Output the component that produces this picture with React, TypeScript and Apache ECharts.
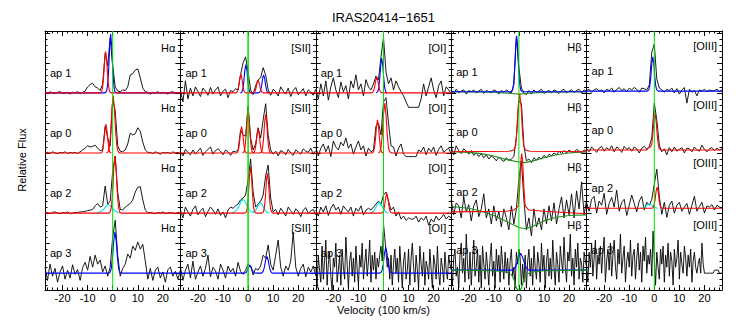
import React, { useEffect, useRef } from "react";
import * as echarts from "echarts";

// Velocity grids (100 km/s)
const VEL = [-27,-26,-25,-24,-23,-22,-21,-20,-19,-18,-17,-16,-15,-14,-13,-12,-11,-10,-9,-8,-7,-6,-5,-4,-3,-2,-1,0,1,2,3,4,5,6,7,8,9,10,11,12,13,14,15,16,17,18,19,20,21,22,23,24,25,26,27];
const VEL_HALF = [-27,-26.5,-26,-25.5,-25,-24.5,-24,-23.5,-23,-22.5,-22,-21.5,-21,-20.5,-20,-19.5,-19,-18.5,-18,-17.5,-17,-16.5,-16,-15.5,-15,-14.5,-14,-13.5,-13,-12.5,-12,-11.5,-11,-10.5,-10,-9.5,-9,-8.5,-8,-7.5,-7,-6.5,-6,-5.5,-5,-4.5,-4,-3.5,-3,-2.5,-2,-1.5,-1,-0.5,0,0.5,1,1.5,2,2.5,3,3.5,4,4.5,5,5.5,6,6.5,7,7.5,8,8.5,9,9.5,10,10.5,11,11.5,12,12.5,13,13.5,14,14.5,15,15.5,16,16.5,17,17.5,18,18.5,19,19.5,20,20.5,21,21.5,22,22.5,23,23.5,24,24.5,25,25.5,26,26.5,27];
const X_MAJOR = [-20, -10, 0, 10, 20];
const LINES = ["Hα", "[SII]", "[OI]", "Hβ", "[OIII]"];
const APS = ["ap 1", "ap 0", "ap 2", "ap 3"];

// ---- Hα ----
const HA_AP1 = [0.01,-0.01,0.02,0,-0.01,0.01,0.02,-0.01,0,0.01,-0.02,0.01,0,0.02,-0.01,0.01,
  0.03,0.1,0.14,0.16,0.1,0.08,0.04,0.15,0.66,0.45,0.92,0.45,0.1,0.03,0.02,0.05,0.04,0.1,0.3,0.32,0.38,0.4,0.25,0.08,0.02,
  0.01,-0.02,0.01,0,0.02,-0.01,0.01,0,-0.02,0.01,0.02,-0.01,0,0.01];
const HA_AP0 = [0,0.01,-0.01,0.02,0,-0.01,0.01,0,0.02,-0.01,0.01,0,0.01,-0.01,0.02,
  0.05,0.08,0.12,0.1,0.11,0.13,0.08,0.04,0.05,0.45,0.25,0.12,0.9,0.7,0.12,0.03,0.02,0.05,0.15,0.33,0.3,0.32,0.42,0.36,0.18,0.05,0.01,
  0.01,-0.01,0.02,0,-0.02,0.01,0,0.01,-0.01,0.02,0,0.01,-0.01];
const HA_AP2 = [0,0.01,-0.01,0.01,0.02,0,-0.01,0.01,0,0.02,-0.01,0,0.01,0.01,0.02,0.02,0.03,0.04,0.05,
  0.06,0.12,0.16,0.1,0.12,0.45,0.15,0.2,0.7,0.95,0.35,0.06,0.05,0.1,0.13,0.16,0.22,0.35,0.43,0.44,0.22,0.05,0.01,
  0.01,0,-0.01,0.01,0,0.02,-0.01,0,0.01,0,-0.01,0.01,0];
const HA_AP3 = [0.1,-0.12,0.15,-0.05,0.08,-0.15,0.02,0.12,-0.1,0.05,-0.08,0.14,-0.02,0.06,-0.12,0.09,
  0.18,0.05,0.28,0.1,0.3,0.15,0.22,0.02,0.12,-0.05,0.1,0.6,0.88,0.3,-0.05,0.08,0.15,0.32,0.25,0.45,0.38,0.52,0.4,0.48,0.2,-0.1,
  0.08,-0.12,0.05,0.1,-0.08,0.02,-0.15,0.06,0.1,-0.05,0.03,-0.1,0.05];
const HA_AP1_BLUE = [[-27,0],[-3,0],[-2.4,0.03],[-2,0.14],[-1.6,0.4],[-1.2,0.78],[-0.8,0.98],[-0.4,0.78],[0,0.4],[0.4,0.14],[0.8,0.03],[1.4,0],[27,0]];
const HA_AP1_RED = [[-27,0],[-5,0],[-4.4,0.02],[-4,0.1],[-3.6,0.28],[-3.2,0.55],[-2.8,0.69],[-2.4,0.55],[-2,0.28],[-1.6,0.1],[-1.2,0.02],[-0.6,0],[27,0]];
const HA_AP0_RED1 = [[-27,0],[-4.9,0],[-4.3,0.01],[-3.9,0.07],[-3.5,0.2],[-3.1,0.38],[-2.7,0.48],[-2.3,0.38],[-1.9,0.2],[-1.5,0.07],[-1.1,0.01],[-0.5,0]];
const HA_AP0_RED2 = [[-2.5,0],[-1.8,0.02],[-1.3,0.1],[-0.8,0.34],[-0.3,0.73],[0.2,0.95],[0.7,0.73],[1.2,0.34],[1.7,0.1],[2.2,0.02],[2.9,0],[27,0]];
const HA_AP2_CYAN = [[-6.5,0],[-5.5,0.01],[-4.5,0.03],[-3.5,0.07],[-2.6,0.115],[-1.7,0.145],[-0.8,0.115],[0.1,0.07],[1.1,0.03],[2.1,0.01],[3,0]];
const HA_AP2_RED = [[-27,0],[-1.5,0],[-1,0.02],[-0.5,0.1],[0,0.36],[0.45,0.75],[0.9,0.95],[1.35,0.75],[1.8,0.36],[2.3,0.1],[2.8,0.02],[3.4,0],[27,0]];
const HA_AP3_BLUE = [[-27,0],[-1.6,0],[-1.1,0.01],[-0.6,0.07],[-0.1,0.25],[0.4,0.53],[0.9,0.69],[1.4,0.53],[1.9,0.25],[2.4,0.07],[2.9,0.01],[3.5,0],[27,0]];

// ---- [SII] ----
const SII_AP1 = [0.05,-0.15,0.2,-0.1,0.08,-0.05,0.1,0.02,-0.06,0.08,0.03,-0.04,0.09,-0.02,0.05,0.1,-0.05,0.03,0.06,-0.08,0.04,0.02,0.07,
  0.05,0.3,0.5,0.6,0.35,0.05,-0.03,0.12,0.22,0.25,0.42,0.3,0.05,-0.04,
  0.06,0.02,-0.05,0.1,0.03,-0.02,0.08,-0.06,0.04,0.09,-0.03,0.02,0.07,-0.05,0.05,0.01,-0.04,0.06];
const SII_AP0 = [0.02,-0.05,0.06,0.01,-0.03,0.05,-0.02,0.03,0.08,-0.04,0.02,0.06,0.1,-0.02,0.04,0.07,0.03,-0.03,0.05,0.02,-0.04,0.03,0.02,
  0.05,0.38,0.3,0.28,0.78,0.25,0.05,0.15,0.42,0.25,0.55,0.82,0.3,0.05,-0.02,
  0.03,-0.05,0.04,0.02,-0.03,0.06,0,-0.04,0.05,0.02,-0.02,0.07,0.03,0.01,0.08,-0.02,0.04];
const SII_AP2 = [0.05,-0.08,0.1,0.02,-0.05,0.06,0.12,-0.03,0.04,0.08,-0.06,0.03,0.1,0.05,-0.02,0.07,-0.04,0.02,-0.08,0.05,0.1,
  0.08,0.12,0.15,0.22,0.25,0.3,0.55,0.9,0.35,0.1,0.15,0.2,0.3,0.62,0.8,0.25,0.02,
  0.06,-0.03,0.08,0.02,-0.05,0.1,0.04,-0.02,0.07,0.03,-0.06,0.05,0.09,-0.01,0.04,0.06,-0.03];
const SII_AP3 = [0.1,-0.12,0.05,0.15,-0.08,0.2,-0.1,0.02,0.12,-0.05,0.08,0.3,-0.06,0.1,0.04,-0.1,0.15,0.05,-0.08,0.12,0.02,0.08,-0.05,0.18,0.03,-0.02,0.05,
  0.15,0.12,-0.03,0.08,0.05,0.12,0.3,0.25,0.47,0.15,0.05,0.3,0.55,0.1,-0.05,0.12,0.05,0.2,0.68,0.1,-0.05,
  0.08,0.15,-0.06,0.1,0.02,0.12,-0.04];
const SII_AP1_BLUE = [[-3.1,0],[-2.5,0.01],[-2.1,0.07],[-1.7,0.19],[-1.3,0.38],[-0.9,0.47],[-0.5,0.38],[-0.1,0.19],[0.3,0.07],[0.7,0.01],[1.3,0],[4,0],[4.6,0.01],[5,0.04],[5.4,0.12],[5.8,0.24],[6.2,0.3],[6.6,0.24],[7,0.12],[7.4,0.04],[7.8,0.01],[8.4,0]];
const SII_AP1_RED = [[-27,0],[-5,0],[-4.5,0.01],[-4.1,0.04],[-3.7,0.13],[-3.3,0.25],[-2.9,0.31],[-2.5,0.25],[-2.1,0.13],[-1.7,0.04],[-1.3,0.01],[-0.7,0],[1.8,0],[2.4,0.01],[2.8,0.03],[3.2,0.09],[3.6,0.17],[4,0.21],[4.4,0.17],[4.8,0.09],[5.2,0.03],[5.6,0.01],[6.2,0],[27,0]];
const SII_AP0_RED1 = [[-27,0],[-4.8,0],[-4.2,0.01],[-3.8,0.06],[-3.4,0.18],[-3,0.35],[-2.6,0.44],[-2.2,0.35],[-1.8,0.18],[-1.4,0.06],[-1,0.01],[-0.4,0],[1.8,0],[2.4,0.01],[2.8,0.06],[3.2,0.16],[3.6,0.32],[4,0.4],[4.4,0.32],[4.8,0.16],[5.2,0.06],[5.6,0.01],[6.2,0],[27,0]];
const SII_AP0_RED2 = [[-2.2,0],[-1.6,0.02],[-1.2,0.1],[-0.8,0.3],[-0.4,0.58],[0,0.73],[0.4,0.58],[0.8,0.3],[1.2,0.1],[1.6,0.02],[2.2,0],[4.8,0],[5.4,0.02],[5.8,0.09],[6.2,0.26],[6.6,0.51],[7,0.64],[7.4,0.51],[7.8,0.26],[8.2,0.09],[8.6,0.02],[9.2,0]];
const SII_AP2_CYAN = [[-6.5,0],[-5.5,0.02],[-4.5,0.05],[-3.5,0.13],[-2.7,0.2],[-2,0.23],[-1.3,0.2],[-0.5,0.13],[0.5,0.05],[1.5,0.02],[2.3,0.01],[3,0.04],[3.7,0.1],[4.3,0.15],[4.9,0.17],[5.5,0.15],[6.1,0.1],[6.8,0.04],[7.6,0.01],[8.5,0]];
const SII_AP2_RED = [[-27,0],[-1.3,0],[-0.65,0.02],[-0.25,0.11],[0.15,0.32],[0.55,0.62],[0.95,0.77],[1.35,0.62],[1.75,0.32],[2.15,0.11],[2.55,0.02],[3.2,0],[5.5,0],[6.1,0.02],[6.5,0.09],[6.9,0.27],[7.3,0.53],[7.7,0.66],[8.1,0.53],[8.5,0.27],[8.9,0.09],[9.3,0.02],[9.9,0],[27,0]];
const SII_AP3_BLUE = [[-27,0],[-1.5,0],[-0.8,0.01],[-0.3,0.05],[0.2,0.1],[0.7,0.13],[1.2,0.1],[1.7,0.05],[2.2,0.01],[3,0],[5,0],[5.5,0.005],[6,0.03],[6.5,0.1],[7,0.22],[7.5,0.28],[8,0.22],[8.5,0.1],[9,0.03],[9.5,0.005],[10,0],[27,0]];

// ---- [OI] ----
const OI_AP1 = [0.05,-0.1,0.15,-0.05,0.2,-0.12,0.1,0.25,0.05,-0.08,0.18,0.02,0.12,-0.1,0.2,0.08,0.3,0.05,0.15,-0.05,0.22,0.1,0.05,0.15,
  0.28,0.22,0.6,0.92,0.35,0.15,0.25,0.05,0.2,0.1,0.02,-0.05,-0.15,-0.24,-0.24,-0.24,-0.24,-0.24,-0.1,0.15,-0.05,0.1,0.25,0.05,
  -0.08,0.12,0.2,-0.05,0.1,0.05,-0.02];
const OI_AP0 = [0.1,-0.05,0.08,0.15,0.02,0.12,-0.06,0.2,0.1,0.05,0.18,0.12,0.25,0.08,0.15,-0.02,0.1,0.2,0.05,0.12,-0.05,0.08,0.02,0.05,
  0.45,0.5,0.3,0.85,0.92,0.5,0.12,0.1,-0.05,0.08,0.15,-0.02,-0.06,-0.06,-0.06,-0.06,-0.06,0.05,0.02,0.1,-0.03,0.08,
  0.02,0.1,-0.04,0.06,0.12,0.01,0.05,0.08,-0.02];
const OI_AP2 = [0.05,-0.05,0.1,0.02,0.12,-0.04,0.08,0.15,0.05,0.1,-0.02,0.12,0.06,0.02,0.1,-0.05,0.08,0.03,0.12,-0.03,0.05,0.08,
  0.05,0.1,0.15,0.2,0.15,0.3,0.35,0.2,0.05,0.1,-0.05,0.02,-0.1,-0.05,-0.12,-0.08,-0.1,-0.1,-0.05,-0.15,-0.08,-0.12,-0.05,-0.2,-0.1,-0.15,
  -0.05,-0.12,-0.08,-0.02,-0.1,-0.05,-0.08];
const OI_AP3 = [0.1,-0.25,0.3,0.05,-0.15,0.45,-0.1,0.2,0.55,-0.2,
  0.15,0.35,-0.05,-0.3,0.25,0.1,0.5,-0.15,0.05,0.3,
  -0.2,0.4,0.1,-0.1,0.6,0.15,-0.25,0.2,0.35,-0.05,
  0.25,-0.15,0.45,0.05,-0.2,0.3,0.1,0.5,-0.1,0.15,
  0.4,-0.05,0.2,0.55,-0.15,0.3,0.05,0.35,-0.1,0.25,
  0.1,0.3,0.45,0.2,0.82,0.6,0.35,0.1,0.25,-0.1,
  0.3,-0.2,0.15,0.4,0,0.25,-0.15,0.45,0.1,-0.25,
  0.2,0.35,-0.1,0.05,0.4,-0.2,0.25,0.5,0.1,-0.15,
  0.3,0.05,-0.25,0.45,0.15,-0.05,0.35,-0.2,0.2,0.1,
  -0.1,0.4,0.05,-0.25,0.3,0.15,-0.1,0.45,0,-0.2,
  0.25,0.1,-0.15,0.35,0.05,-0.1,0.3,0.15,0.05];
const OI_AP1_BLUE = [[-2.9,0],[-2.3,0.02],[-1.9,0.08],[-1.5,0.24],[-1.1,0.46],[-0.7,0.58],[-0.3,0.46],[0.1,0.24],[0.5,0.08],[0.9,0.02],[1.5,0]];
const OI_AP1_RED = [[-27,0],[-4.9,0],[-4.3,0.01],[-3.9,0.04],[-3.5,0.11],[-3.1,0.21],[-2.7,0.26],[-2.3,0.21],[-1.9,0.11],[-1.5,0.04],[-1.1,0.01],[-0.5,0],[27,0]];
const OI_AP0_RED1 = [[-27,0],[-4.6,0],[-4,0.02],[-3.6,0.08],[-3.2,0.23],[-2.8,0.44],[-2.4,0.55],[-2,0.44],[-1.6,0.23],[-1.2,0.08],[-0.8,0.02],[-0.2,0]];
const OI_AP0_RED2 = [[-2,0],[-1.5,0.02],[-1,0.08],[-0.5,0.3],[0,0.64],[0.5,0.83],[1,0.64],[1.5,0.3],[2,0.08],[2.5,0.02],[3.2,0],[27,0]];
const OI_AP2_CYAN = [[-5.5,0],[-4.6,0.01],[-3.8,0.04],[-3,0.1],[-2.3,0.15],[-1.7,0.18],[-1.1,0.15],[-0.4,0.1],[0.4,0.04],[1.2,0.01],[2,0]];
const OI_AP2_RED = [[-27,0],[-0.9,0],[-0.3,0.01],[0.1,0.05],[0.5,0.14],[0.9,0.26],[1.3,0.33],[1.7,0.26],[2.1,0.14],[2.5,0.05],[2.9,0.01],[3.5,0],[27,0]];
const OI_AP3_BLUE = [[-27,0],[-1.6,0],[-1.1,0.01],[-0.6,0.04],[-0.1,0.15],[0.4,0.33],[0.9,0.43],[1.4,0.33],[1.9,0.15],[2.4,0.04],[2.9,0.01],[3.5,0],[27,0]];

// ---- Hβ ----
const HB_AP1 = [0.02,-0.03,0.04,-0.02,0.01,0.03,-0.04,0.02,0,0.03,-0.02,0.01,0.04,-0.03,0.02,0,-0.02,0.03,0.01,-0.04,0.02,-0.01,0.03,0,-0.02,
  0.12,0.92,0.4,0.06,-0.02,-0.05,
  0.02,-0.04,0.03,-0.02,0.01,0.04,-0.03,0,0.02,-0.02,0.03,0.01,-0.03,0.02,0.04,-0.02,0.01,0.03,-0.01,0.02,0.04,-0.02,0.03,0.01];
const HB_AP0 = [0.08,-0.05,0.1,0.02,-0.03,0.05,0.01,-0.04,0.02,-0.06,-0.02,-0.08,-0.03,-0.1,-0.05,-0.12,-0.07,-0.1,-0.15,-0.09,-0.13,-0.16,-0.1,-0.14,-0.12,
  -0.08,0.25,0.85,0.8,0.1,-0.15,
  -0.12,-0.18,-0.1,-0.14,-0.09,-0.12,-0.06,-0.1,-0.04,-0.07,-0.02,-0.05,0.01,-0.03,0.02,-0.02,0.03,0,-0.01,0.04,0.01,-0.02,0.03,0.02];
const HB_AP2 = [0.2,-0.05,0.15,0.1,-0.1,0.25,0,0.12,-0.15,0.1,0.2,-0.08,0.05,0.3,-0.1,0.05,-0.2,0.1,-0.15,0,-0.25,0.05,-0.1,-0.3,0.1,-0.2,0.05,
  0.55,0.85,0.2,-0.3,-0.1,-0.4,0.05,-0.25,-0.1,-0.3,0.05,-0.2,0.1,-0.15,0.15,-0.2,0.05,0.25,-0.1,0.2,-0.05,0.3,-0.1,0.35,0.05,0.5,-0.05,0.2];
const HB_AP3 = [0.1,-0.25,0.2,0.35,-0.1,0.05,-0.3,0.25,0.45,-0.05,
  0.2,-0.2,0.6,0.1,-0.15,0.3,-0.25,0.15,0.5,-0.1,
  0.05,0.35,-0.2,0.25,-0.3,0.4,0.1,-0.15,0.3,0.05,
  -0.25,0.2,0.45,-0.1,0.15,-0.3,0.35,0,0.25,-0.2,
  0.4,0.1,-0.15,0.3,-0.05,0.2,-0.25,0.15,0.35,-0.1,
  0.05,-0.3,0.3,0.1,0.35,0.2,-0.25,0.1,-0.2,0.25,
  -0.3,0.15,0.35,-0.1,0.2,-0.25,0.4,0.05,-0.15,0.3,
  0.1,-0.2,0.45,0,0.25,-0.3,0.15,0.35,-0.1,0.2,
  -0.15,0.5,0.05,-0.25,0.3,0.1,-0.2,0.4,0.15,-0.05,
  0.55,0.05,-0.2,0.3,0.15,0.6,-0.1,0.2,-0.25,0.35,
  0.05,0.45,-0.15,0.2,0.1,-0.2,0.3,0.15,0.05];
const HB_AP1_GREEN = [[-27,0],[-10,-0.01],[-3,-0.03],[0,-0.04],[3,-0.03],[10,-0.01],[27,0]];
const HB_AP1_BLUE = [[-27,0],[-3.1,0],[-2.5,0.03],[-2.1,0.13],[-1.7,0.38],[-1.3,0.74],[-0.9,0.93],[-0.5,0.74],[-0.1,0.38],[0.3,0.13],[0.7,0.03],[1.3,0],[27,0]];
const HB_AP0_GREEN = [[-27,0],[-20,-0.01],[-15,-0.03],[-10,-0.07],[-5,-0.13],[0,-0.17],[2,-0.18],[5,-0.16],[10,-0.1],[15,-0.05],[20,-0.02],[27,0]];
const HB_AP0_RED = [[-27,0],[-4,0.01],[-2,0.03],[-1.3,0.1],[-0.8,0.35],[-0.3,0.75],[0.3,0.97],[0.9,0.75],[1.4,0.35],[1.9,0.1],[2.6,0.03],[4.5,0.01],[27,0]];
const HB_AP2_GREEN = [[-27,0.09],[-20,0.06],[-15,0.01],[-10,-0.06],[-5,-0.16],[0,-0.26],[2.5,-0.28],[5,-0.25],[10,-0.15],[15,-0.09],[20,-0.06],[27,-0.05]];
const HB_AP2_RED = [[-27,0],[-5,0.01],[-2,0.03],[-0.2,0.1],[0.3,0.4],[0.8,0.85],[1.1,0.97],[1.5,0.85],[2,0.4],[2.5,0.1],[4,0.03],[10,0.01],[27,-0.03]];
const HB_AP3_GREEN = [[-27,0],[-10,-0.01],[-5,-0.03],[-3,-0.07],[-2,-0.15],[-1,-0.3],[0,-0.35],[1,-0.3],[2,-0.15],[3,-0.07],[5,-0.03],[10,-0.01],[27,0]];
const HB_AP3_BLUE = [[-27,0],[-2.5,0],[-1.5,0.04],[-0.8,0.12],[0,0.22],[0.7,0.28],[1.4,0.22],[2.2,0.12],[2.9,0.04],[4,0],[27,0]];

// ---- [OIII] ----
const OIII_AP1 = [0.01,0.03,-0.02,0.02,0.04,0,0.02,-0.03,0.03,0.01,0.05,-0.02,0.03,0.06,0.01,0.04,-0.01,0.05,0.02,0.06,0.03,-0.02,0.05,0.04,0.02,
  0.1,0.65,0.78,0.2,0.05,0.02,
  -0.02,0.03,0.01,0.05,-0.03,0.04,-0.05,0.02,0.06,-0.2,0.03,-0.02,0.01,-0.08,0.02,0,0.03,-0.01,0.02,0,0.01,0.03,-0.01,0.02];
const OIII_AP0 = [0.02,-0.03,0.05,0.01,-0.04,0.03,0.06,-0.02,0.04,0,0.07,-0.03,0.05,0.02,-0.04,0.06,0.01,0.04,-0.02,0.05,0.02,-0.05,0.03,0.06,0.01,
  0.06,0.2,0.78,0.5,0.08,-0.03,
  0.02,-0.08,0.04,-0.03,0.05,-0.02,0.01,0.04,-0.05,0.03,0.02,-0.03,0.05,0,-0.02,0.08,0.01,-0.03,0.02,0.04,-0.01,0.03,0,0.02];
const OIII_AP2 = [0.1,-0.05,0.15,0.2,-0.08,0.12,0.05,0.25,-0.1,0.08,0.18,0.02,0.3,-0.05,0.1,0.15,-0.12,0.05,0.22,0.08,-0.06,0.12,0.2,-0.03,0.1,0.05,0.15,
  0.4,0.65,0.2,-0.1,0.1,-0.15,0.05,0.12,-0.08,0.05,0.1,-0.05,0.02,0.08,-0.1,0.05,0.2,-0.05,0.03,0.1,-0.08,0.04,0.02,0.06,-0.03,0.05,0.02,0.01];
const OIII_AP3 = [0.1,-0.2,0.3,0.05,0.45,-0.1,0.2,0.5,-0.15,0.25,
  0.1,0.4,-0.05,0.3,0.55,-0.2,0.15,0.35,0,0.45,
  -0.1,0.25,0.5,0.05,-0.15,0.35,0.1,0.6,-0.05,0.2,
  0.4,-0.2,0.15,0.3,0.05,0.5,-0.1,0.25,0.35,-0.15,
  0.2,0.45,0,0.3,-0.2,0.4,0.15,0.55,-0.05,0.25,
  0.1,0.35,-0.1,0.65,0.2,-0.25,0.3,0.05,-0.15,0.35,
  0.1,0.4,-0.2,0.25,0.05,0.45,-0.1,0.3,0.15,-0.25,
  0.35,0.05,0.2,0.5,-0.15,0.3,0.1,-0.05,0.4,0.2,
  -0.1,0.25,0.05,0.35,-0.2,0.15,0.3,0.05,-0.05,0.1,
  0.2,-0.05,0.45,0.1,-0.05,-0.05,-0.05,-0.05,-0.05,-0.05,
  -0.05,-0.05,0,0,0,0,-0.05,-0.05,-0.05];
const OIII_AP1_BLUE = [[-27,0],[-2.8,0],[-2.2,0.02],[-1.8,0.08],[-1.4,0.23],[-1,0.46],[-0.6,0.57],[-0.2,0.46],[0.2,0.23],[0.6,0.08],[1,0.02],[1.6,0],[27,0]];
const OIII_AP0_RED = [[-27,0],[-3,0],[-2.2,0.04],[-1.5,0.05],[-1,0.1],[-0.5,0.3],[0,0.55],[0.3,0.61],[0.8,0.45],[1.3,0.18],[1.8,0.04],[2.5,0],[27,0]];
const OIII_AP2_CYAN = [[-5.5,0],[-4.5,0.01],[-3.5,0.03],[-2.7,0.06],[-2,0.07],[-1.3,0.06],[-0.5,0.03],[0.5,0.01],[1.5,0]];
const OIII_AP2_RED = [[-27,0],[-1.1,0],[-0.5,0.01],[-0.1,0.05],[0.3,0.14],[0.7,0.28],[1.1,0.35],[1.5,0.28],[1.9,0.14],[2.3,0.05],[2.7,0.01],[3.3,0],[27,0]];

// ---- styling / layout ----
const RED = "#ff0000";
const BLUE = "#0000ff";
const CYAN = "#00e0e0";
const DKGREEN = "#1f8f1f";
const VGREEN = "#00e000";
const FONT = "Liberation Sans";
const GRID_LEFT = 45;
const COL_W = 135.4;
const GRID_TOP = 31;
const GRID_H = 259;
const YMIN = -0.28;
const YMAX = 4.03;

type Fit = { color: string; data: number[][] };
type Panel = { flux: number[]; off: number; fits: Fit[]; vel?: number[] };

const COLUMNS: Panel[][] = [
  [
    { flux: HA_AP1, off: 3, fits: [{ color: BLUE, data: HA_AP1_BLUE }, { color: RED, data: HA_AP1_RED }] },
    { flux: HA_AP0, off: 2, fits: [{ color: RED, data: HA_AP0_RED1 }, { color: RED, data: HA_AP0_RED2 }] },
    { flux: HA_AP2, off: 1, fits: [{ color: CYAN, data: HA_AP2_CYAN }, { color: RED, data: HA_AP2_RED }] },
    { flux: HA_AP3, off: 0, fits: [{ color: BLUE, data: HA_AP3_BLUE }] },
  ],
  [
    { flux: SII_AP1, off: 3, fits: [{ color: BLUE, data: SII_AP1_BLUE }, { color: RED, data: SII_AP1_RED }] },
    { flux: SII_AP0, off: 2, fits: [{ color: RED, data: SII_AP0_RED1 }, { color: RED, data: SII_AP0_RED2 }] },
    { flux: SII_AP2, off: 1, fits: [{ color: CYAN, data: SII_AP2_CYAN }, { color: RED, data: SII_AP2_RED }] },
    { flux: SII_AP3, off: 0, fits: [{ color: BLUE, data: SII_AP3_BLUE }] },
  ],
  [
    { flux: OI_AP1, off: 3, fits: [{ color: BLUE, data: OI_AP1_BLUE }, { color: RED, data: OI_AP1_RED }] },
    { flux: OI_AP0, off: 2, fits: [{ color: RED, data: OI_AP0_RED1 }, { color: RED, data: OI_AP0_RED2 }] },
    { flux: OI_AP2, off: 1, fits: [{ color: CYAN, data: OI_AP2_CYAN }, { color: RED, data: OI_AP2_RED }] },
    { flux: OI_AP3, off: 0, vel: VEL_HALF, fits: [{ color: BLUE, data: OI_AP3_BLUE }] },
  ],
  [
    { flux: HB_AP1, off: 3.02, fits: [{ color: DKGREEN, data: HB_AP1_GREEN }, { color: BLUE, data: HB_AP1_BLUE }] },
    { flux: HB_AP0, off: 2.02, fits: [{ color: DKGREEN, data: HB_AP0_GREEN }, { color: RED, data: HB_AP0_RED }] },
    { flux: HB_AP2, off: 1.02, fits: [{ color: DKGREEN, data: HB_AP2_GREEN }, { color: RED, data: HB_AP2_RED }] },
    { flux: HB_AP3, off: 0.05, vel: VEL_HALF, fits: [{ color: BLUE, data: HB_AP3_BLUE }, { color: DKGREEN, data: HB_AP3_GREEN }] },
  ],
  [
    { flux: OIII_AP1, off: 3.03, fits: [{ color: BLUE, data: OIII_AP1_BLUE }] },
    { flux: OIII_AP0, off: 2.05, fits: [{ color: RED, data: OIII_AP0_RED }] },
    { flux: OIII_AP2, off: 1.08, fits: [{ color: CYAN, data: OIII_AP2_CYAN }, { color: RED, data: OIII_AP2_RED }] },
    { flux: OIII_AP3, off: 0.05, vel: VEL_HALF, fits: [] },
  ],
];

function minorTicks(from: number, to: number, step: number, skip: number): number[] {
  const out: number[] = [];
  for (let v = from; v <= to + 1e-9; v += step) {
    const r = Math.round(v * 100) / 100;
    if (Math.abs(r / skip - Math.round(r / skip)) > 1e-6) out.push(r);
  }
  return out;
}

function pxY(val: number): number {
  return GRID_TOP + ((YMAX - val) / (YMAX - YMIN)) * GRID_H;
}

function buildOption(): any {
  const X_MINOR = minorTicks(-26, 26, 2, 10);
  const Y_MAJOR = [0, 0.5, 1, 1.5, 2, 2.5, 3, 3.5, 4];
  const Y_MINOR = minorTicks(-0.2, 4.0, 0.1, 0.5);
  const grids: any[] = [];
  const xAxes: any[] = [];
  const yAxes: any[] = [];
  const series: any[] = [];
  const graphics: any[] = [];
  const lineStyleAxis = { color: "#000", width: 1 };

  COLUMNS.forEach((col, c) => {
    const left = GRID_LEFT + c * COL_W;
    grids.push({ left, top: GRID_TOP, width: COL_W, height: GRID_H, outerBoundsMode: "none", containLabel: false });
    const xBase = { gridIndex: c, type: "value", min: -27, max: 27, splitLine: { show: false } };
    xAxes.push({
      ...xBase, position: "bottom",
      axisLine: { show: true, onZero: false, lineStyle: lineStyleAxis },
      axisTick: { show: true, inside: true, length: 5, customValues: X_MAJOR, lineStyle: lineStyleAxis },
      axisLabel: { show: true, customValues: X_MAJOR, color: "#000", fontSize: 11, fontFamily: FONT, margin: 2 },
    });
    xAxes.push({
      ...xBase, position: "bottom",
      axisLine: { show: false, onZero: false },
      axisTick: { show: true, inside: true, length: 2.5, customValues: X_MINOR, lineStyle: lineStyleAxis },
      axisLabel: { show: false },
    });
    xAxes.push({
      ...xBase, position: "top",
      axisLine: { show: true, onZero: false, lineStyle: lineStyleAxis },
      axisTick: { show: true, inside: true, length: 5, customValues: X_MAJOR, lineStyle: lineStyleAxis },
      axisLabel: { show: false },
    });
    xAxes.push({
      ...xBase, position: "top",
      axisLine: { show: false, onZero: false },
      axisTick: { show: true, inside: true, length: 2.5, customValues: X_MINOR, lineStyle: lineStyleAxis },
      axisLabel: { show: false },
    });
    const yBase = { gridIndex: c, type: "value", min: YMIN, max: YMAX, splitLine: { show: false }, axisLabel: { show: false } };
    (["left", "right"] as const).forEach((pos) => {
      yAxes.push({
        ...yBase, position: pos,
        axisLine: { show: true, onZero: false, lineStyle: lineStyleAxis },
        axisTick: { show: true, inside: true, length: 5, customValues: Y_MAJOR, lineStyle: lineStyleAxis },
      });
      yAxes.push({
        ...yBase, position: pos,
        axisLine: { show: false, onZero: false },
        axisTick: { show: true, inside: true, length: 2.5, customValues: Y_MINOR, lineStyle: lineStyleAxis },
      });
    });

    const xi = c * 4;
    const yi = c * 4;
    col.forEach((p, r) => {
      const vel = p.vel || VEL;
      series.push({
        type: "line", xAxisIndex: xi, yAxisIndex: yi, symbol: "none", silent: true, clip: true, z: 2,
        lineStyle: { color: "#000", width: 0.9 },
        data: vel.map((v, i) => [v, p.flux[i] + p.off]),
      });
      p.fits.forEach((f) => {
        series.push({
          type: "line", xAxisIndex: xi, yAxisIndex: yi, symbol: "none", silent: true, clip: true, z: 3,
          lineStyle: { color: f.color, width: 1.1 },
          data: f.data.map(([v, y]) => [v, y + p.off]),
        });
      });
      const base = pxY(p.off);
      graphics.push({
        type: "text", x: left + 5, y: base - 20, z: 10,
        style: { text: APS[r], fill: "#000", font: `11px "${FONT}"`, textAlign: "left", textVerticalAlign: "middle" },
      });
      graphics.push({
        type: "text", x: left + COL_W - 5, y: base - 45, z: 10,
        style: { text: LINES[c], fill: "#000", font: `11px "${FONT}"`, textAlign: "right", textVerticalAlign: "middle" },
      });
    });
    series.push({
      type: "line", xAxisIndex: xi, yAxisIndex: yi, symbol: "none", silent: true, clip: true, z: 4,
      lineStyle: { color: VGREEN, width: c === 1 ? 1.5 : 1 },
      data: [[0, YMIN], [0, YMAX]],
    });
  });

  const midX = GRID_LEFT + (COL_W * 5) / 2;
  graphics.push({
    type: "text", x: midX, y: 17, z: 10,
    style: { text: "IRAS20414\u22121651", fill: "#000", font: `13px "${FONT}"`, textAlign: "center", textVerticalAlign: "middle" },
  });
  graphics.push({
    type: "text", x: midX, y: 310, z: 10,
    style: { text: "Velocity (100 km/s)", fill: "#000", font: `11px "${FONT}"`, textAlign: "center", textVerticalAlign: "middle" },
  });
  graphics.push({
    type: "text", x: 22, y: 160, rotation: Math.PI / 2, z: 10,
    style: { text: "Relative Flux", fill: "#000", font: `11px "${FONT}"`, textAlign: "center", textVerticalAlign: "middle" },
  });

  return {
    animation: false,
    backgroundColor: "#fff",
    grid: grids,
    xAxis: xAxes,
    yAxis: yAxes,
    series,
    graphic: graphics,
  };
}

export default function App() {
  const ref = useRef<HTMLDivElement>(null);
  useEffect(() => {
    if (!ref.current) return;
    const chart = echarts.init(ref.current, null, { renderer: "svg" });
    chart.setOption(buildOption());
    return () => chart.dispose();
  }, []);
  return (
    <div
      ref={ref}
      style={{ position: "fixed", left: 0, top: 0, width: 747, height: 327, background: "#fff" }}
    />
  );
}
